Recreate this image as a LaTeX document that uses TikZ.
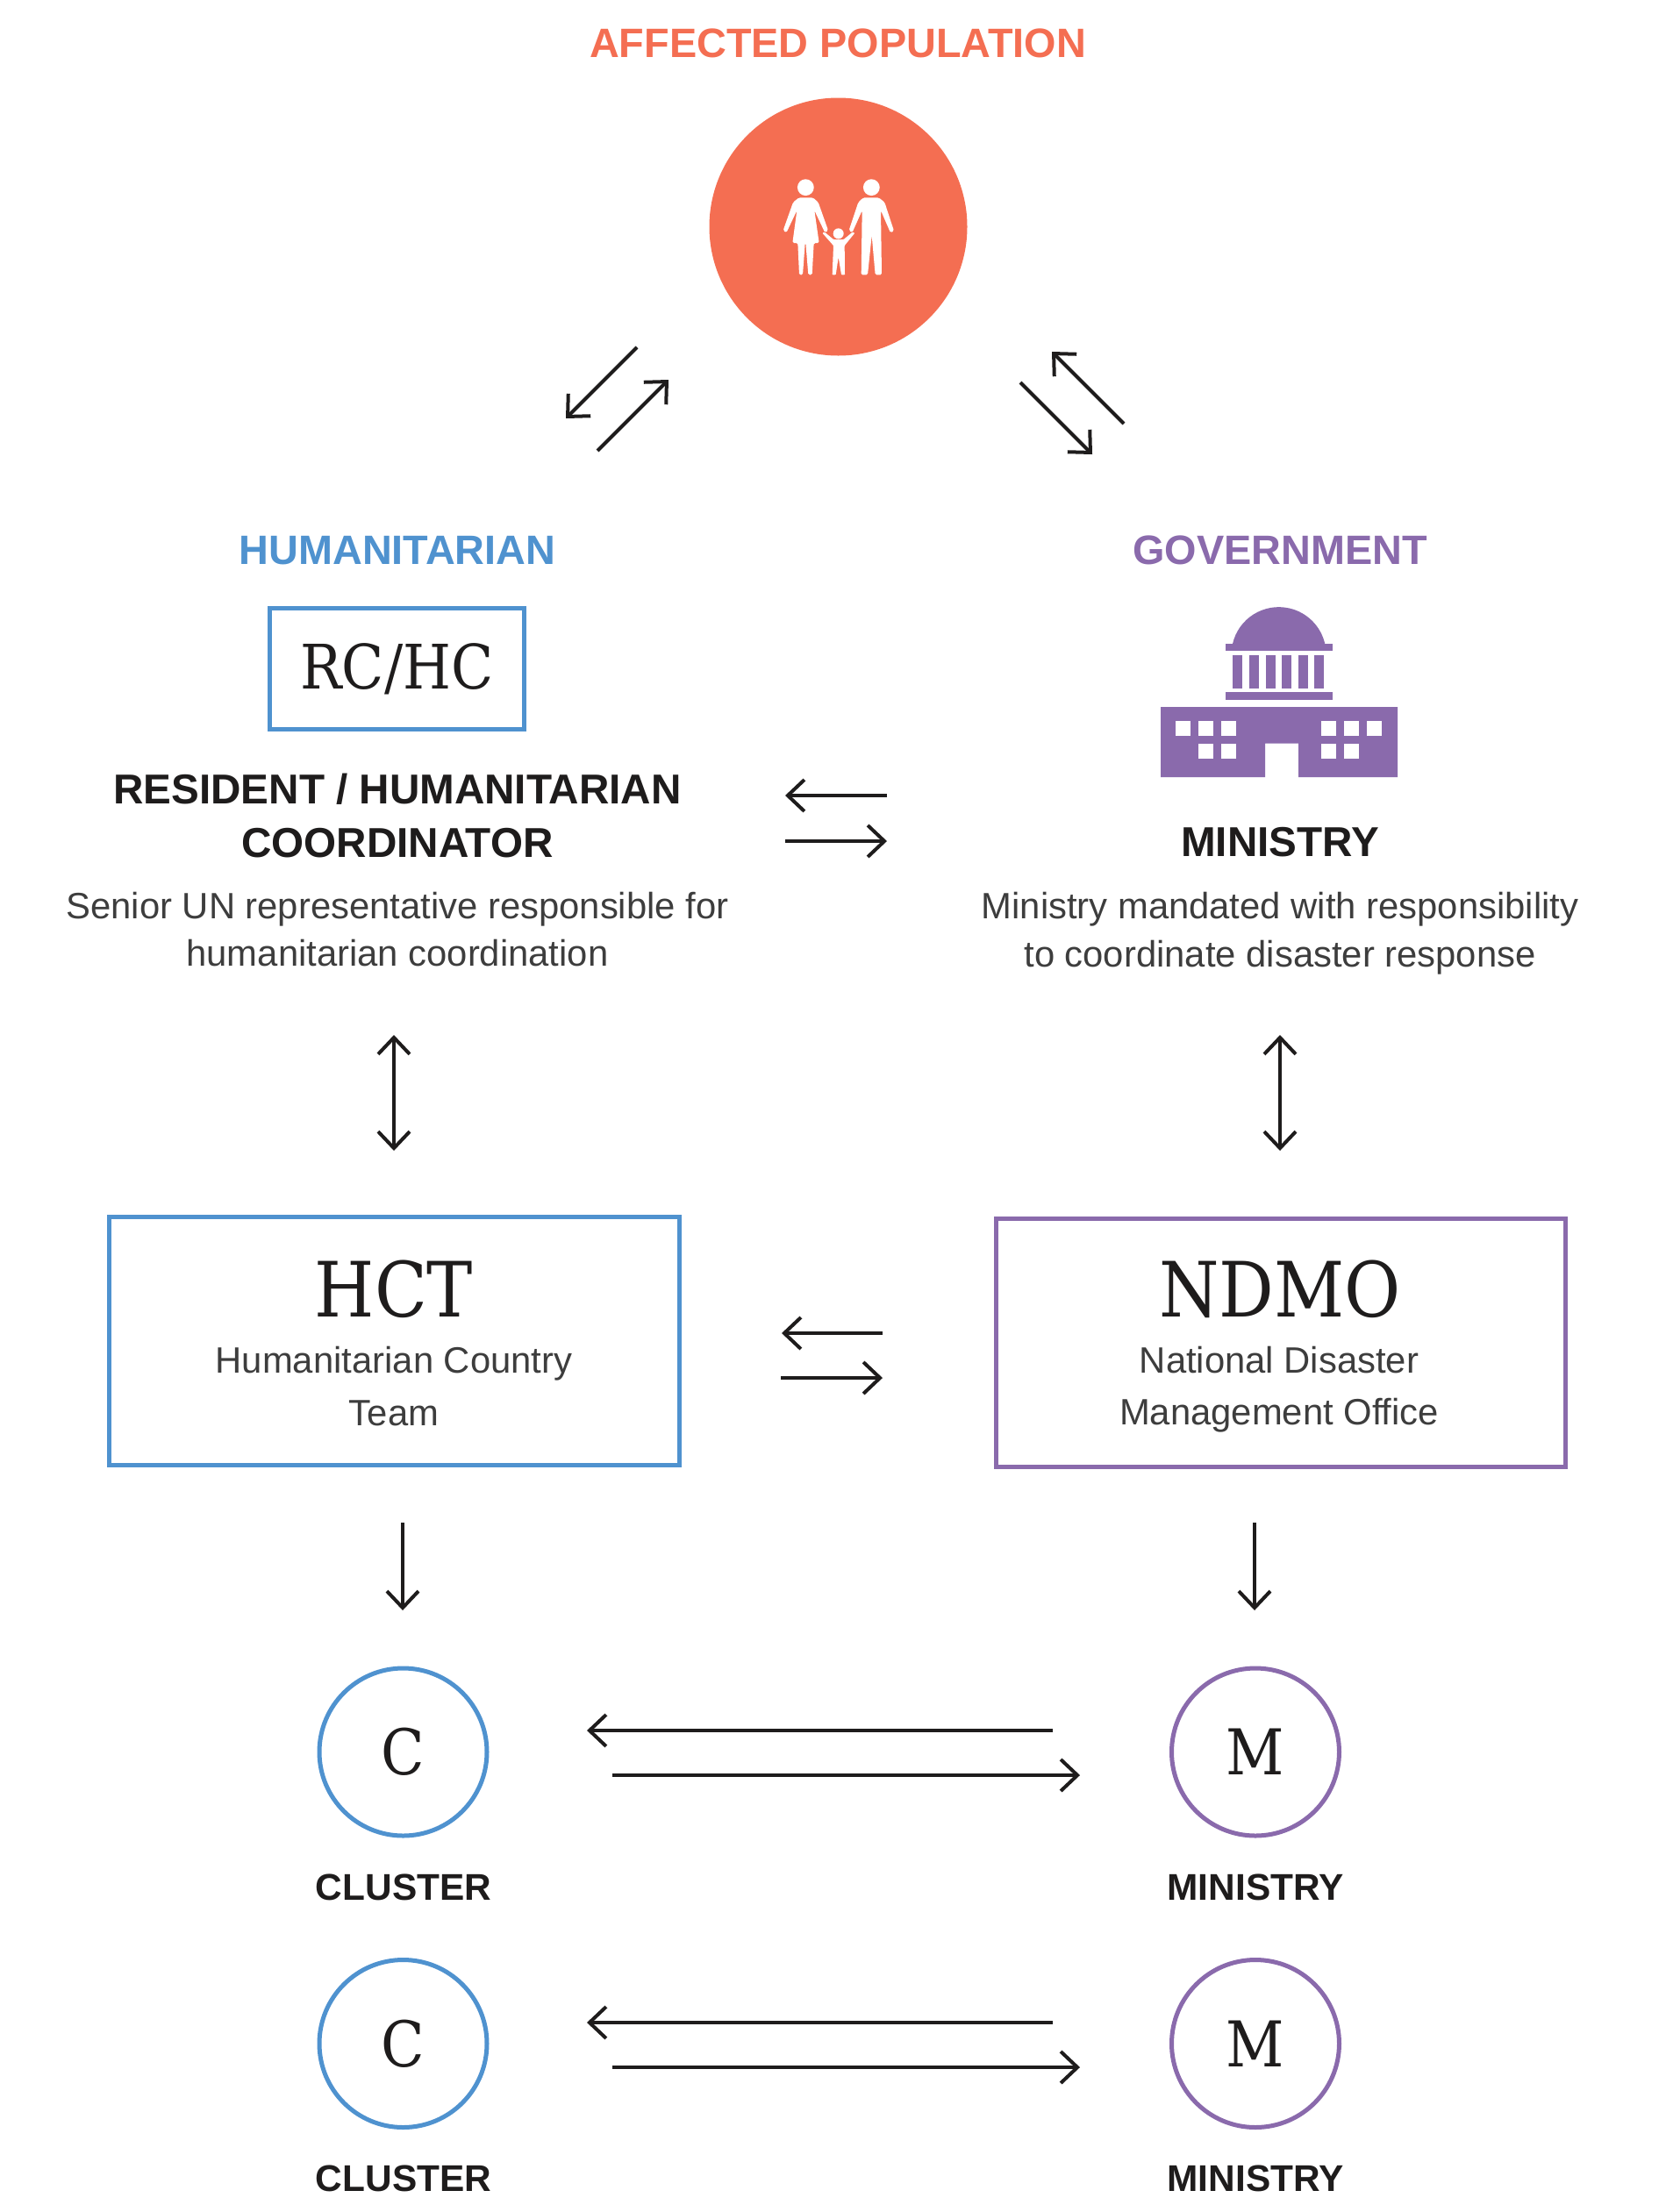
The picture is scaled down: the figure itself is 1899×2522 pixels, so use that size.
\documentclass[tikz,border=0pt]{standalone}
\usepackage{fontspec}
\setmainfont{Liberation Sans}
\newfontfamily\slabfont[FakeStretch=0.9]{DejaVu Serif}
\usepackage{tikz}
\usetikzlibrary{arrows.meta,positioning,calc}
\definecolor{coralred}{HTML}{F46E52}
\definecolor{humblue}{HTML}{4F92CF}
\definecolor{govpurple}{HTML}{8A6AAC}
\definecolor{inkdark}{HTML}{1E1C1C}
\definecolor{bodygray}{HTML}{3D3D3D}

\begin{document}
\begin{tikzpicture}[
    x=0.5pt, y=-0.5pt,
    head/.style={font=\fontsize{23.4}{23.4}\selectfont\bfseries, inner sep=0pt},
    title/.style={font=\fontsize{23.8}{30.5}\selectfont\bfseries, text=inkdark, align=center, inner sep=0pt},
    body/.style={font=\fontsize{20.9}{27.3}\selectfont, text=bodygray, align=center, inner sep=0pt},
    bodylow/.style={font=\fontsize{20.9}{29.7}\selectfont, text=bodygray, align=center, inner sep=0pt},
    small/.style={font=\fontsize{21.2}{21.2}\selectfont\bfseries, text=inkdark, inner sep=0pt},
    slab/.style={font=\fontsize{#1}{#1}\slabfont, text=inkdark, inner sep=0pt},
    hbox/.style={rectangle, draw=humblue, line width=2.5pt, inner sep=0pt},
    gbox/.style={rectangle, draw=govpurple, line width=2.5pt, inner sep=0pt},
    disc/.style={circle, line width=2.5pt, minimum size=95.5pt, inner sep=0pt},
    arrow/.style={-{Straight Barb[length=9.5pt,width=18pt]}, line width=2pt, draw=inkdark},
    twoway/.style={{Straight Barb[length=9.5pt,width=18pt]}-{Straight Barb[length=9.5pt,width=18pt]}, line width=2pt, draw=inkdark}
]
    \useasboundingbox (0,0) rectangle (1899,2522);

    % Top: affected population
    \node[head, text=coralred] (poptitle) at (955,49) {AFFECTED POPULATION};
    \node[circle, fill=coralred, minimum size=147pt, inner sep=0pt] (popdisc) at (955.5,258.5) {};

    % Family icon, in pixels of a 3x crop
    \begin{scope}[shift={(780,100)}, x=0.16667pt, y=-0.16667pt]
        \fill[white] (415,341) circle[radius=4.7pt];
        \fill[white] (640,341) circle[radius=4.7pt];
        \fill[white] (527,499) circle[radius=3pt];
        \fill[white, rounded corners=0.8pt] (392,376) -- (440,376) -- (458,392) -- (492,488) -- (481,496) -- (445,420)
            -- (461,531) -- (443,531) -- (437,640) -- (424,640) -- (415,531) -- (413,531) -- (405,640)
            -- (393,640) -- (388,531) -- (370,531) -- (385,420) -- (349,496) -- (338,488) -- (372,392) -- cycle;
        \fill[white, rounded corners=0.8pt] (612,376) -- (665,376) -- (685,392) -- (717,490) -- (705,496) -- (672,420)
            -- (675,640) -- (653,640) -- (641,505) -- (627,640) -- (605,640) -- (608,420) -- (574,496)
            -- (563,488) -- (595,392) -- cycle;
        \fill[white, rounded corners=0.4pt] (472,497) -- (480,494) -- (510,519) -- (545,519) -- (575,494) -- (583,497)
            -- (548,540) -- (549,640) -- (537,640) -- (527,580) -- (518,640) -- (506,640) -- (510,540) -- cycle;
    \end{scope}

    % Column headings
    \node[head, text=humblue] (humtitle) at (453,628) {HUMANITARIAN};
    \node[head, text=govpurple] (govtitle) at (1459,627) {GOVERNMENT};

    % Left column, first tier
    \node[hbox, minimum width=145pt, minimum height=69pt, slab=35] (rchc) at (452.5,762.5) {RC/HC};
    \node[title] (rctitle) at (453,929.5) {RESIDENT / HUMANITARIAN\\COORDINATOR};
    \node[body] (rcbody) at (453,1059.5) {Senior UN representative responsible for\\humanitarian coordination};

    % Ministry building
    \fill[govpurple] (1405,734) arc[start angle=167, end angle=13, radius=27pt] -- cycle;
    \fill[govpurple] (1397,734) rectangle (1519,742);
    \fill[govpurple] (1397,789) rectangle (1519,798);
    \foreach \colx in {1405,1424,1443,1461,1480,1498}
        \fill[govpurple] (\colx,747) rectangle ++(11,38);
    \fill[govpurple] (1323,806) -- (1593,806) -- (1593,886) -- (1480,886) -- (1480,847.5) -- (1442,847.5) -- (1442,886) -- (1323,886) -- cycle;
    \foreach \winx/\winy in {1340/822,1366/822,1392/822,1506/822,1532/822,1558/822,1366/847.5,1392/847.5,1506/847.5,1532/847.5}
        \fill[white] (\winx,\winy) rectangle ++(17,17);

    % Right column, first tier
    \node[title] (mintitle) at (1459,960) {MINISTRY};
    \node[body] (minbody) at (1459,1064) {Ministry mandated with responsibility\\to coordinate disaster response};

    % Second tier
    \node[hbox, minimum width=325pt, minimum height=141.5pt] (hct) at (449,1529) {};
    \node[gbox, minimum width=324.5pt, minimum height=141.5pt] (ndmo) at (1460,1531) {};
    \node[slab=43.5] (hctname) at (449,1470) {HCT};
    \node[slab=43.5] (ndmoname) at (1459,1470) {NDMO};
    \node[bodylow] (hctbody) at (449,1580.5) {Humanitarian Country\\Team};
    \node[bodylow] (ndmobody) at (1458,1584) {National Disaster\\Management Office};

    % Clusters and line ministries
    \node[disc, draw=humblue, slab=36] (clustera) at (459.5,1997.5) {C};
    \node[disc, draw=humblue, slab=36] (clusterb) at (459.5,2330) {C};
    \node[disc, draw=govpurple, slab=36] (ministrya) at (1431,1997.5) {M};
    \node[disc, draw=govpurple, slab=36] (ministryb) at (1431,2330) {M};
    \node[small] (clusteralabel) at (460,2152) {CLUSTER};
    \node[small] (clusterblabel) at (460,2484) {CLUSTER};
    \node[small] (ministryalabel) at (1431,2152) {MINISTRY};
    \node[small] (ministryblabel) at (1431,2484) {MINISTRY};

    % Free ends of the arrows
    \coordinate (popla) at (726,396); \coordinate (poplb) at (645,477);
    \coordinate (poplc) at (681,514); \coordinate (popld) at (762,433);
    \coordinate (popra) at (1281,483); \coordinate (poprb) at (1199,401);
    \coordinate (poprc) at (1163,436); \coordinate (poprd) at (1245,518);
    \coordinate (rca) at (1011,907); \coordinate (rcb) at (895,907);
    \coordinate (rcc) at (895,959); \coordinate (rcd) at (1011,959);
    \coordinate (hcta) at (1006,1520); \coordinate (hctb) at (891,1520);
    \coordinate (hctc) at (890,1571); \coordinate (hctd) at (1006,1571);
    \coordinate (vla) at (449,1180); \coordinate (vlb) at (449,1312);
    \coordinate (vra) at (1459,1180); \coordinate (vrb) at (1459,1312);
    \coordinate (dla) at (459,1736); \coordinate (dlb) at (459,1836);
    \coordinate (dra) at (1430,1736); \coordinate (drb) at (1430,1836);
    \coordinate (cma) at (1200,1973); \coordinate (cmb) at (669,1973);
    \coordinate (cmc) at (698,2024); \coordinate (cmd) at (1231,2024);
    \coordinate (cme) at (1200,2306); \coordinate (cmf) at (669,2306);
    \coordinate (cmg) at (698,2357); \coordinate (cmh) at (1231,2357);

    % Arrows
    \draw[arrow] (popla) -- (poplb);
    \draw[arrow] (poplc) -- (popld);
    \draw[arrow] (popra) -- (poprb);
    \draw[arrow] (poprc) -- (poprd);
    \draw[arrow] (rca) -- (rcb);
    \draw[arrow] (rcc) -- (rcd);
    \draw[twoway] (vla) -- (vlb);
    \draw[twoway] (vra) -- (vrb);
    \draw[arrow] (hcta) -- (hctb);
    \draw[arrow] (hctc) -- (hctd);
    \draw[arrow] (dla) -- (dlb);
    \draw[arrow] (dra) -- (drb);
    \draw[arrow] (cma) -- (cmb);
    \draw[arrow] (cmc) -- (cmd);
    \draw[arrow] (cme) -- (cmf);
    \draw[arrow] (cmg) -- (cmh);
\end{tikzpicture}
\end{document}
